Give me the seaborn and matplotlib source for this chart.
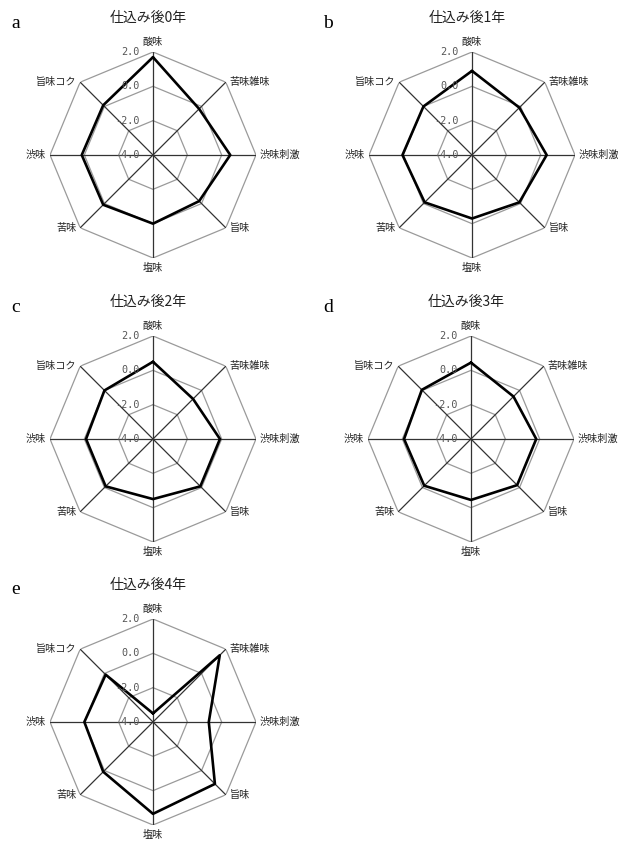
import numpy as np
import pandas as pd
import matplotlib
matplotlib.use("Agg")
import matplotlib.pyplot as plt
import matplotlib.transforms as mtransforms
import seaborn as sns

# 官能評価 (仕込み後年数ごと)
labels = ['酸味', '苦味雑味', '渋味刺激', '旨味', '塩味', '苦味', '渋味', '旨味コク']
titles = ['仕込み後0年', '仕込み後1年', '仕込み後2年', '仕込み後3年', '仕込み後4年']
letters = ['a', 'b', 'c', 'd', 'e']
year0 = [1.7, -0.2, 0.5, -0.2, 0.0, 0.1, 0.15, 0.1]
year1 = [0.9, -0.1, 0.35, -0.1, -0.3, -0.1, 0.05, 0.0]
year2 = [0.5, -0.7, -0.1, -0.1, -0.5, -0.1, -0.1, 0.0]
year3 = [0.45, -0.5, -0.2, -0.2, -0.45, -0.15, -0.1, 0.05]
year4 = [-3.5, 1.5, -0.75, 1.1, 1.35, 0.1, 0.0, -0.1]
ring_values = [-2.0, 0.0, 2.0]
rtick_values = [2.0, 0.0, -2.0, -4.0]
rtick_labels = ['2.0', '0.0', '-2.0', '-4.0']
rmin, rmax = -4.0, 2.0

sns.set_theme(style="white")
plt.rcParams['font.family'] = ['Noto Sans CJK JP', 'DejaVu Sans']

W, H = 618, 843
fig = plt.figure(figsize=(W / 100, H / 100), dpi=100)

# panel centres in pixels (from top-left)
centres = [(153, 155), (472, 155), (153, 439), (471, 439), (153, 722)]
R = 103


def radar(ax, vals, title, letter, cx, cy):
    theta = np.linspace(0, 2 * np.pi, len(labels), endpoint=False)
    tc = np.append(theta, 2 * np.pi)
    ax.set_theta_zero_location('N')
    ax.set_theta_direction(-1)
    ax.grid(False)
    ax.spines['polar'].set_visible(False)
    ax.set_facecolor('none')
    for r in ring_values:
        ax.plot(tc, [r] * len(tc), color='#9a9a9a', lw=0.9, zorder=1)
    for t in theta:
        ax.plot([t, t], [rmin, rmax], color='#333333', lw=0.9, zorder=2)
    df = pd.DataFrame({'theta': tc, 'value': list(vals) + [vals[0]]})
    sns.lineplot(data=df, x='theta', y='value', ax=ax, sort=False,
                 estimator=None, color='black', lw=1.9, zorder=3)
    ax.set_xlabel('')
    ax.set_ylabel('')
    ax.set_xticks([])
    ax.set_yticks([])
    ax.set_ylim(rmin, rmax)

    # category labels
    for t, lab in zip(theta, labels):
        s, c = np.sin(t), np.cos(t)
        ha = 'left' if s > 0.1 else ('right' if s < -0.1 else 'center')
        va = 'bottom' if c > 0.9 else ('top' if c < -0.9 else 'center')
        if abs(c) > 0.9:
            dx, dy = 0, 5 * np.sign(c)
        else:
            dx, dy = 4 * np.sign(s), 0
        tr = mtransforms.offset_copy(ax.transData, fig=fig, x=dx, y=dy, units='dots')
        ax.text(t, rmax, lab, transform=tr, ha=ha, va=va, fontsize=7.3,
                color='#222222', clip_on=False)

    # radial scale labels
    tr = mtransforms.offset_copy(ax.transData, fig=fig, x=-13, y=0, units='dots')
    for v, lab in zip(rtick_values, rtick_labels):
        ax.text(0, v, lab, transform=tr, ha='right', va='center', fontsize=7.3,
                family='DejaVu Sans Mono', color='#555555', clip_on=False)

    fig.text((cx - 5) / W, 1 - (cy - 137) / H, title, ha='center', va='center',
             fontsize=10, color='#222222')
    lx = 16 if cx < 300 else 328
    fig.text(lx / W, 1 - (cy - 132) / H, letter, ha='center', va='center',
             fontsize=14, family='Liberation Serif', color='black')


data = [year0, year1, year2, year3, year4]
for vals, title, letter, (cx, cy) in zip(data, titles, letters, centres):
    ax = fig.add_axes([(cx - R) / W, 1 - (cy + R) / H, 2 * R / W, 2 * R / H],
                      projection='polar')
    radar(ax, vals, title, letter, cx, cy)

fig.savefig('out.png', dpi=100, facecolor='white')
